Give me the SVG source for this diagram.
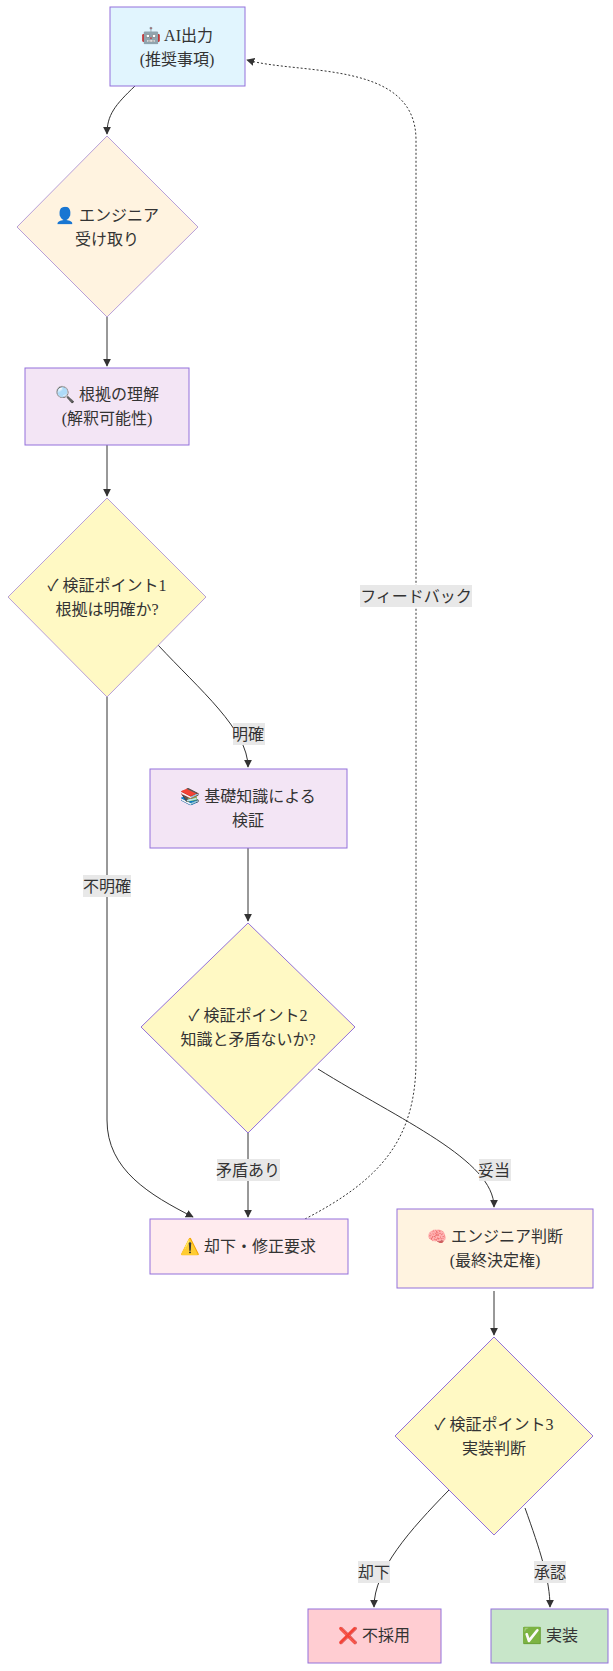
<svg xmlns="http://www.w3.org/2000/svg" width="613" height="1671" viewBox="0 0 613 1671">
<defs>
<marker id="arr" viewBox="0 0 10 10" refX="9" refY="5" markerWidth="8" markerHeight="8" orient="auto-start-reverse"><path d="M0,0 L10,5 L0,10 z" fill="#333"/></marker>
<style>
text{font-family:"Liberation Serif","Noto Sans CJK JP",serif;font-size:16px;fill:#333;text-anchor:middle}
.n{stroke:#9370db;stroke-width:1}
.d{stroke:#b8a0d8;stroke-width:1}
.e{fill:none;stroke:#333;stroke-width:1;marker-end:url(#arr)}
.lb{fill:#e8e8e8}
</style>
</defs>
<g id="connectors">
<path class="e" d="M135,86 C115,105 107,115 107,134"/>
<path class="e" d="M107,317 L107,366"/>
<path class="e" d="M107,445 L107,496"/>
<path class="e" d="M158,645 C200,690 248,730 248,767"/>
<path class="e" d="M107,697 L107,1120 C107,1170 150,1195 193,1217"/>
<path class="e" d="M248,848 L248,921"/>
<path class="e" d="M248,1133 L248,1217"/>
<path class="e" d="M318,1069 C400,1120 494,1160 494,1207"/>
<path class="e" d="M494,1291 L494,1335"/>
<path class="e" d="M449,1490 C410,1530 374,1570 374,1607"/>
<path class="e" d="M525,1508 C540,1550 550,1580 550,1607"/>
<path class="e" style="stroke-dasharray:2,2" d="M305,1219 C380,1180 416,1140 416,1060 L416,140 C416,60 300,75 247,60"/>
<rect class="lb" x="360" y="585" width="112" height="22"/><text x="416" y="602">フィードバック</text>
<rect class="lb" x="233" y="723" width="32" height="22"/><text x="248" y="740">明確</text>
<rect class="lb" x="83" y="875" width="48" height="22"/><text x="107" y="892">不明確</text>
<rect class="lb" x="217" y="1159" width="63" height="22"/><text x="248" y="1176">矛盾あり</text>
<rect class="lb" x="479" y="1159" width="32" height="22"/><text x="494" y="1176">妥当</text>
<rect class="lb" x="358" y="1561" width="32" height="22"/><text x="374" y="1578">却下</text>
<rect class="lb" x="534" y="1561" width="32" height="22"/><text x="550" y="1578">承認</text>
</g>
<g id="A"><rect class="n" x="110" y="7" width="135" height="79" fill="#e1f5fe"/><text x="177" y="41">🤖 AI出力</text><text x="177" y="65">(推奨事項)</text></g>
<g id="B"><polygon class="d" points="107,136 198,227 107,317 17,227" fill="#fff3e0"/><text x="107" y="221">👤 エンジニア</text><text x="107" y="245">受け取り</text></g>
<g id="C"><rect class="n" x="25" y="368" width="164" height="77" fill="#f3e5f5"/><text x="107" y="400">🔍 根拠の理解</text><text x="107" y="424">(解釈可能性)</text></g>
<g id="D"><polygon class="d" points="107,498 206,597 107,697 8,597" fill="#fff9c4"/><text x="107" y="591">✓ 検証ポイント1</text><text x="107" y="615">根拠は明確か?</text></g>
<g id="E"><rect class="n" x="150" y="769" width="197" height="79" fill="#f3e5f5"/><text x="248" y="802">📚 基礎知識による</text><text x="248" y="826">検証</text></g>
<g id="F"><polygon class="n" points="248,923 355,1027 248,1133 141,1027" fill="#fff9c4"/><text x="248" y="1021">✓ 検証ポイント2</text><text x="248" y="1045">知識と矛盾ないか?</text></g>
<g id="G"><rect class="n" x="150" y="1219" width="198" height="55" fill="#ffebee"/><text x="248" y="1252">⚠️ 却下・修正要求</text></g>
<g id="H"><rect class="n" x="397" y="1209" width="196" height="79" fill="#fff3e0"/><text x="495" y="1242">🧠 エンジニア判断</text><text x="495" y="1266">(最終決定権)</text></g>
<g id="I"><polygon class="n" points="494,1337 593,1436 494,1535 395,1436" fill="#fff9c4"/><text x="494" y="1430">✓ 検証ポイント3</text><text x="494" y="1454">実装判断</text></g>
<g id="J"><rect class="n" x="308" y="1609" width="133" height="54" fill="#ffcdd2"/><text x="374" y="1641">❌ 不採用</text></g>
<g id="K"><rect class="n" x="491" y="1609" width="117" height="54" fill="#c8e6c9"/><text x="550" y="1641">✅ 実装</text></g>
</svg>
